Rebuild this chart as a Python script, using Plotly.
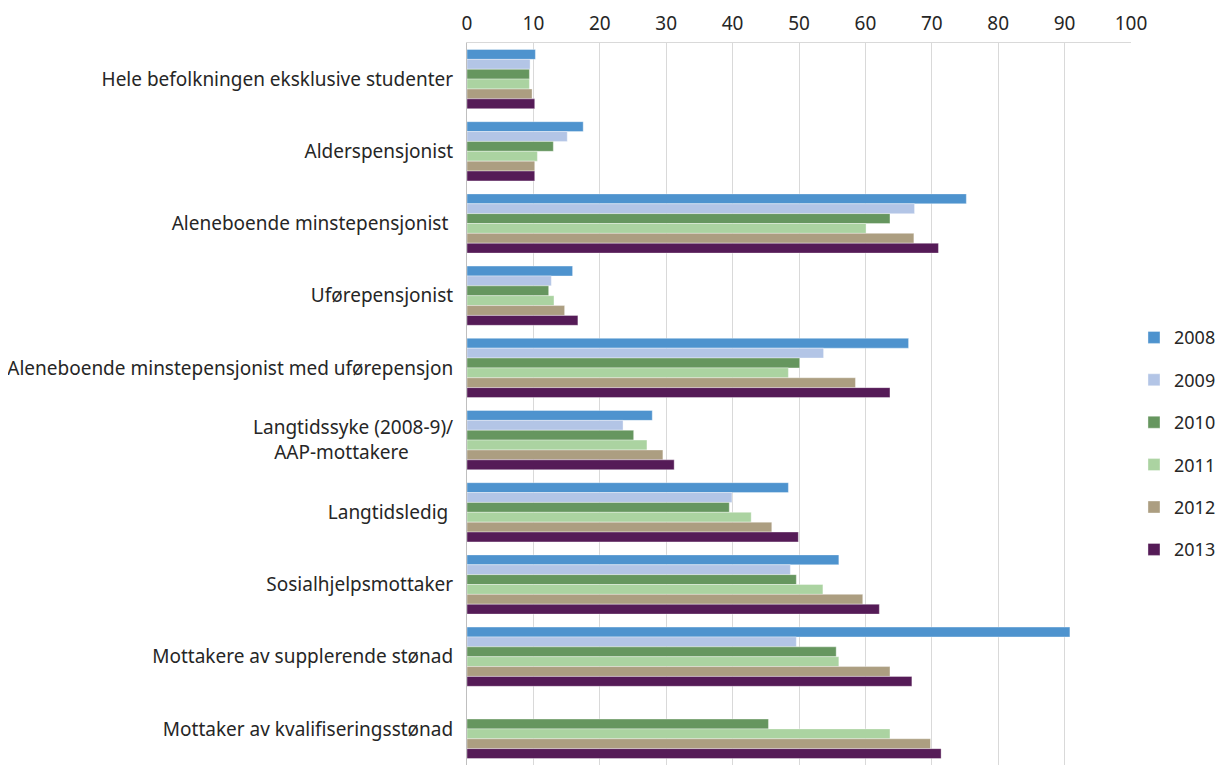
import plotly.graph_objects as go

categories = [
    "Hele befolkningen eksklusive studenter",
    "Alderspensjonist",
    "Aleneboende minstepensjonist ",
    "Uførepensjonist",
    "Aleneboende minstepensjonist med uførepensjon",
    "Langtidssyke (2008-9)/<br>AAP-mottakere" + "\u00a0" * 9,
    "Langtidsledig ",
    "Sosialhjelpsmottaker",
    "Mottakere av supplerende stønad",
    "Mottaker av kvalifiseringsstønad",
]

years = ["2008", "2009", "2010", "2011", "2012", "2013"]

v2008 = [10.3, 17.5, 75.2, 15.9, 66.5, 27.9, 48.4, 56.0, 90.8, None]
v2009 = [9.5, 15.1, 67.4, 12.7, 53.7, 23.5, 39.9, 48.7, 49.6, None]
v2010 = [9.4, 13.0, 63.7, 12.3, 50.1, 25.1, 39.5, 49.6, 55.6, 45.4]
v2011 = [9.4, 10.6, 60.1, 13.1, 48.4, 27.1, 42.8, 53.6, 56.0, 63.7]
v2012 = [9.8, 10.2, 67.3, 14.7, 58.5, 29.5, 45.9, 59.6, 63.7, 69.8]
v2013 = [10.2, 10.2, 71.0, 16.7, 63.7, 31.2, 49.9, 62.1, 67.0, 71.4]

series = [v2008, v2009, v2010, v2011, v2012, v2013]
colors = ["#4E93CE", "#B3C5E6", "#66965F", "#ABD3A1", "#AC9E81", "#551B57"]

fig = go.Figure()
for yr, vals, col in zip(years, series, colors):
    fig.add_trace(go.Bar(
        name=yr, y=categories, x=vals, orientation="h",
        marker=dict(color=col, line=dict(color="rgba(255,255,255,0.45)", width=0.8)),
        legendgroup=yr,
    ))

# page body has an 8px default margin, so the figure is 8px smaller
fig.update_layout(
    width=1217, height=757,
    margin=dict(l=459, r=94, t=35, b=0, autoexpand=False),
    barmode="group", bargap=0.18, bargroupgap=0,
    plot_bgcolor="white", paper_bgcolor="white",
    font=dict(family="Noto Sans", size=18, color="#262626"),
    legend=dict(
        x=1.0045, xanchor="left", y=0.445, yanchor="middle",
        font=dict(size=18, color="#262626"),
        tracegroupgap=16, itemwidth=30,
        bgcolor="rgba(0,0,0,0)",
    ),
    showlegend=True,
)
fig.update_xaxes(
    side="top", range=[0, 100], dtick=10, tick0=0,
    showgrid=True, gridcolor="#D9D9D9", gridwidth=1,
    showline=True, linecolor="#D9D9D9", linewidth=1,
    ticks="", ticklabelstandoff=4, automargin=False,
    tickfont=dict(size=19, color="#262626"),
    zeroline=False, fixedrange=True,
)
fig.update_yaxes(
    autorange="reversed", type="category",
    showline=True, linecolor="#BFBFBF", linewidth=1,
    ticks="", ticklabelstandoff=9, automargin=False,
    tickfont=dict(size=19, color="#262626"),
    showgrid=False,
)

fig.write_html("out.html")
